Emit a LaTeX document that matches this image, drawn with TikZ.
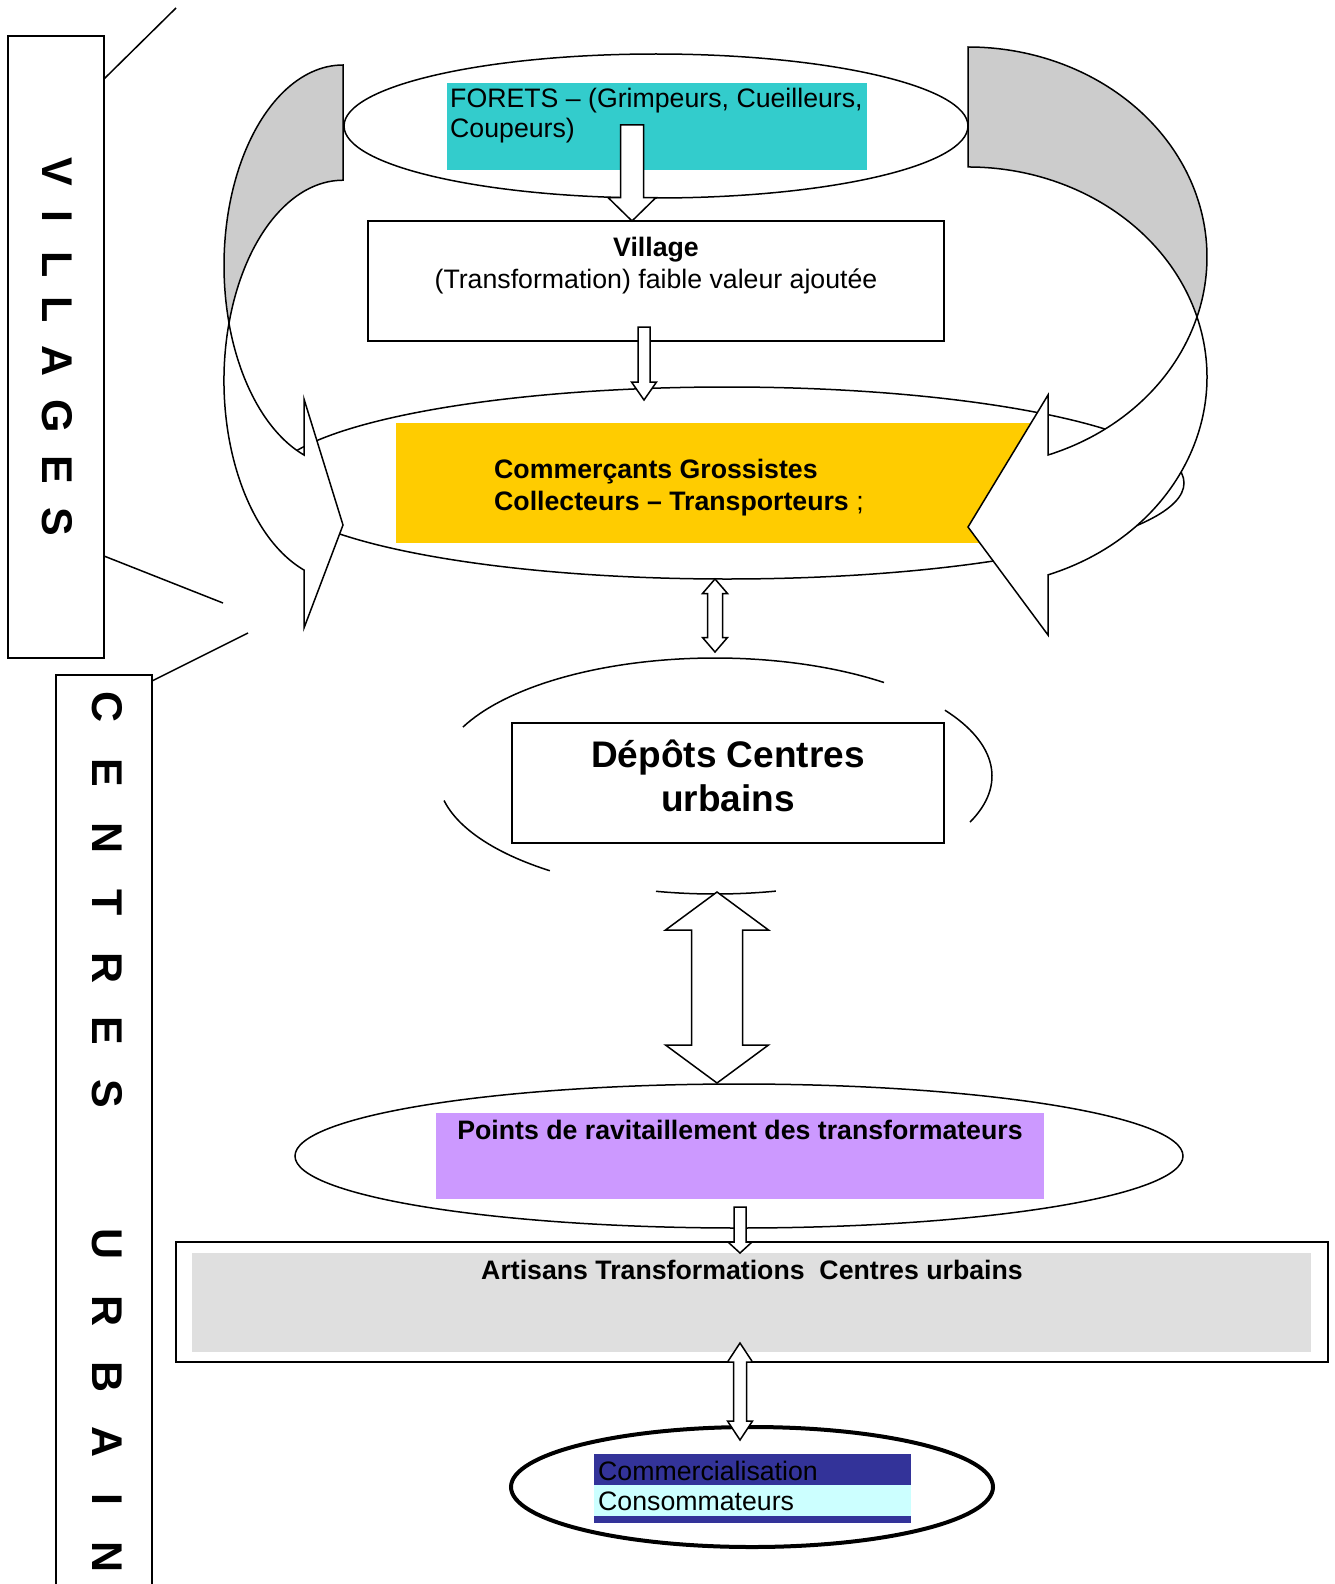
\documentclass[tikz,border=0pt]{standalone}
\usepackage{fontspec}
\setmainfont{Liberation Sans}
\usetikzlibrary{shapes.geometric,calc}
\definecolor{foretsCyan}{HTML}{33CCCC}
\definecolor{commYellow}{HTML}{FFCC00}
\definecolor{pointsViolet}{HTML}{CC99FF}
\definecolor{artGrey}{HTML}{DFDFDF}
\definecolor{backGrey}{HTML}{CCCCCC}
\definecolor{consBlue}{HTML}{333399}
\definecolor{consCyan}{HTML}{CCFFFF}
\tikzset{
  frame/.style={draw, line width=1.5, inner sep=0, outer sep=0},
  band/.style={inner sep=0, outer sep=0},
  ring/.style={ellipse, draw, line width=1.5, inner sep=0, outer sep=0},
  blockarrow/.style={draw, fill=white, line width=1.5, line join=miter},
  curvedback/.style={draw, fill=backGrey, line width=1.5},
  curvedfront/.style={draw, fill=white, line width=1.5},
  vletter/.style={rotate=-90, inner sep=0, font=\fontsize{43}{43}\selectfont\bfseries},
  txt/.style={inner sep=0, font=\fontsize{26.7}{30}\selectfont},
  txtbold/.style={inner sep=0, font=\fontsize{26.7}{32}\selectfont\bfseries},
}
% block arrow down: shaft top, tip, shaft half width, head half width, head length
\newcommand{\arrowdown}[5]{%
  \draw[blockarrow] let \p1=(#1), \p2=(#2) in
    ({\x2-#3},\y1) -- ({\x2+#3},\y1) -- ({\x2+#3},{\y2+#5}) -- ({\x2+#4},{\y2+#5})
    -- (\x2,\y2) -- ({\x2-#4},{\y2+#5}) -- ({\x2-#3},{\y2+#5}) -- cycle;}
% double block arrow: upper tip, lower tip, shaft half width, head half width, head length
\newcommand{\arrowboth}[5]{%
  \draw[blockarrow] let \p1=(#1), \p2=(#2) in
    (\x1,\y1) -- ({\x1+#4},{\y1-#5}) -- ({\x1+#3},{\y1-#5}) -- ({\x1+#3},{\y2+#5})
    -- ({\x1+#4},{\y2+#5}) -- (\x1,\y2) -- ({\x1-#4},{\y2+#5}) -- ({\x1-#3},{\y2+#5})
    -- ({\x1-#3},{\y1-#5}) -- ({\x1-#4},{\y1-#5}) -- cycle;}
\begin{document}
\begin{tikzpicture}[x=1pt, y=-1pt]
  \useasboundingbox (0,0) rectangle (1334,1584);
  % side labels
  \node[frame, minimum width=96, minimum height=622] (villages) at (56,347) {};
  \foreach \ch/\yy [count=\i] in {V/172, I/216, L/265, L/310, A/361, G/416, E/470, S/522}
    \node[vletter] (vl\i) at (57.5,\yy) {\ch};
  \node[frame, minimum width=96, minimum height=911] (centres) at (104,1130.5) {};
  \foreach \ch/\yy [count=\i] in {C/707, E/773, N/838, T/903, R/968, E/1031, S/1094,
      U/1244, R/1311, B/1377, A/1442, I/1499, N/1557}
    \node[vletter] (cl\i) at (107,\yy) {\ch};
  \coordinate (vc1) at (176,8);
  \coordinate (vc2) at (223,603);
  \coordinate (cc1) at (248,633);
  \draw[line width=1.5] ([yshift=-43]villages.north east) -- (vc1);
  \draw[line width=1.5] ([yshift=-520]villages.north east) -- (vc2);
  \draw[line width=1.5] ([yshift=-6]centres.north east) -- (cc1);

  % forets
  \node[ring, minimum width=624, minimum height=144] (forets) at (656,126) {};
  \node[band, fill=foretsCyan, minimum width=420, minimum height=87] (foretsfill) at (657,126.5) {};
  \node[txt, anchor=north west, align=left] (foretstext) at (450,88)
    {FORETS – (Grimpeurs, Cueilleurs,\\Coupeurs)};
  % village
  \node[frame, minimum width=576, minimum height=120] (village) at (656,281) {};
  \node[txt, anchor=north, align=center, font=\fontsize{26.7}{32}\selectfont] (villagetext) at (656,237)
    {\textbf{Village}\\(Transformation) faible valeur ajoutée};
  \coordinate (fvtop) at (632,125);
  \arrowdown{fvtop}{fvtop |- village.north}{11.5}{24}{23.5}

  % commercants
  \node[ring, minimum width=914, minimum height=192] (commerce) at (727,483) {};
  \node[band, fill=commYellow, minimum width=644, minimum height=120] (commercefill) at (718,483) {};
  \node[txtbold, anchor=north west, align=left] (commercetext) at (494,459)
    {Commerçants Grossistes\\Collecteurs – Transporteurs \textmd{;}};
  \coordinate (vctop) at (644,327);
  \coordinate (vctip) at (644,400);
  \arrowdown{vctop}{vctip}{6}{12.5}{18}

  % curved arrows round the villages
  \draw[curvedback] (343,65)
    arc[start angle=-90, end angle=-196.7, x radius=119, y radius=200.5]
    arc[start angle=-163.3, end angle=-90, x radius=119, y radius=200.5] -- cycle;
  \draw[curvedfront] (229,323)
    arc[start angle=-163.3, end angle=-250.9, x radius=119, y radius=200.5]
    -- (304,628) -- (343,525) -- (304,399) -- (304,455)
    arc[start angle=109.1, end angle=163.3, x radius=119, y radius=200.5] -- cycle;
  \draw[curvedback] (968,47)
    arc[start angle=-90, end angle=16.6, x radius=239, y radius=210]
    arc[start angle=-16.6, end angle=-90, x radius=239, y radius=210] -- cycle;
  \draw[curvedfront] (1197,317)
    arc[start angle=-16.6, end angle=70.4, x radius=239, y radius=210]
    -- (1048,635) -- (968,527) -- (1048,395) -- (1048,455)
    arc[start angle=70.4, end angle=16.6, x radius=239, y radius=210] -- cycle;

  % depots
  \coordinate (cdtop) at (715,579);
  \coordinate (cdbot) at (715,652);
  \arrowboth{cdtop}{cdbot}{7.5}{12.5}{14.5}
  \coordinate (depotsring) at (715,776);
  \foreach \a/\b in {-155.5/-52.4, -33.9/23, 168/126.6, 102.3/77.3}
    \draw[line width=1.5] ($(depotsring)+(\a:277 and 118)$)
      arc[start angle=\a, end angle=\b, x radius=277, y radius=118];
  \node[frame, fill=white, minimum width=432, minimum height=120] (depots) at (728,783) {};
  \node[inner sep=0, align=center, font=\fontsize{37}{44}\selectfont\bfseries] (depotstext) at (728,776)
    {Dépôts Centres\\urbains};

  % points de ravitaillement
  \node[ring, minimum width=888, minimum height=144] (points) at (739,1156) {};
  \node[band, fill=pointsViolet, minimum width=608, minimum height=86] (pointsfill) at (740,1156) {};
  \node[txtbold, anchor=base] (pointstext) at (740,1139)
    {Points de ravitaillement des transformateurs};
  \coordinate (dptop) at (717,892);
  \coordinate (dpbot) at (717,1083);
  \arrowboth{dptop}{dpbot}{25.5}{51.5}{38}

  % artisans
  \node[frame, minimum width=1152, minimum height=120] (artisans) at (752,1302) {};
  \node[band, fill=artGrey, minimum width=1119, minimum height=99] (artisansfill) at (751.5,1302.5) {};
  \node[txtbold, anchor=base] (artisanstext) at (752,1279)
    {Artisans Transformations\ \ Centres urbains};
  \coordinate (patop) at (740,1207);
  \arrowdown{patop}{patop |- artisansfill.north}{6}{12}{11}

  % commercialisation
  \node[ring, line width=4, minimum width=482, minimum height=120] (conso) at (752,1487) {};
  \node[band, fill=consBlue, minimum width=317, minimum height=69] (consofill) at (752.5,1488.5) {};
  \node[band, fill=consCyan, minimum width=317, minimum height=31] (consoband) at (752.5,1500.5) {};
  \node[txt, anchor=base west] (consotext1) at (598,1480) {Commercialisation};
  \node[txt, anchor=base west] (consotext2) at (598,1510) {Consommateurs};
  \coordinate (actop) at (740,1343);
  \coordinate (acbot) at (740,1440);
  \arrowboth{actop}{acbot}{6.5}{12.5}{19}
\end{tikzpicture}
\end{document}
